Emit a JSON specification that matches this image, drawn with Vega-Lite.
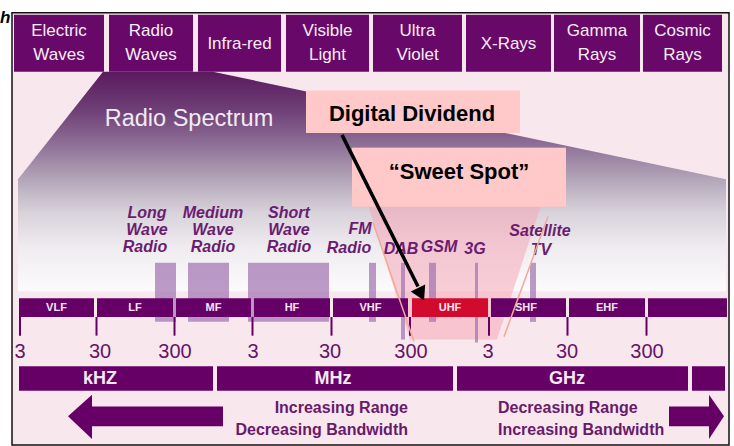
{
  "$schema": "https://vega.github.io/schema/vega-lite/v6.json",
  "width": 734,
  "height": 446,
  "autosize": {"type": "fit", "contains": "padding"},
  "padding": 0,
  "background": "white",
  "config": {"view": {"stroke": null}},
  "datasets": {
    "frame": [{"x": 12, "x2": 729, "y": 13, "y2": 452}],
    "fan": [
      {"x": 18, "y": 182, "y2": 296},
      {"x": 103, "y": 73, "y2": 296},
      {"x": 213, "y": 73, "y2": 296},
      {"x": 726, "y": 182, "y2": 296}
    ],
    "funnel": [
      {"x": 350, "y": 150, "y2": 150},
      {"x": 410, "y": 150, "y2": 345},
      {"x": 497, "y": 150, "y2": 345},
      {"x": 560, "y": 150, "y2": 150}
    ],
    "bars": [
      {"x": 155, "x2": 176, "y": 267, "y2": 327},
      {"x": 188, "x2": 229, "y": 267, "y2": 327},
      {"x": 248, "x2": 329, "y": 267, "y2": 327},
      {"x": 369, "x2": 376, "y": 267, "y2": 327},
      {"x": 401, "x2": 405, "y": 267, "y2": 345},
      {"x": 429, "x2": 436, "y": 267, "y2": 327},
      {"x": 475, "x2": 478, "y": 267, "y2": 348},
      {"x": 530, "x2": 536, "y": 267, "y2": 327}
    ],
    "band": [
      {"t": "VLF", "x": 19, "x2": 94, "cx": 56.5, "y": 303, "y2": 322, "k": "p"},
      {"t": "LF", "x": 97, "x2": 173, "cx": 135, "y": 303, "y2": 322, "k": "p"},
      {"t": "MF", "x": 176, "x2": 251, "cx": 213.5, "y": 303, "y2": 322, "k": "p"},
      {"t": "HF", "x": 254, "x2": 330, "cx": 292, "y": 303, "y2": 322, "k": "p"},
      {"t": "VHF", "x": 333, "x2": 408, "cx": 370.5, "y": 303, "y2": 322, "k": "p"},
      {"t": "UHF", "x": 412, "x2": 488, "cx": 450, "y": 303, "y2": 322, "k": "r"},
      {"t": "SHF", "x": 491, "x2": 566, "cx": 526, "y": 303, "y2": 322, "k": "p"},
      {"t": "EHF", "x": 569, "x2": 645, "cx": 607, "y": 303, "y2": 322, "k": "p"},
      {"t": "", "x": 648, "x2": 727, "cx": 687.5, "y": 303, "y2": 322, "k": "p"}
    ],
    "ticks": [
      {"x": 20, "lx": 20, "l": "3", "y": 322, "y2": 341, "ly": 358},
      {"x": 96.5, "lx": 100, "l": "30", "y": 322, "y2": 341, "ly": 358},
      {"x": 174.5, "lx": 175, "l": "300", "y": 322, "y2": 341, "ly": 358},
      {"x": 252.5, "lx": 253, "l": "3", "y": 322, "y2": 341, "ly": 358},
      {"x": 331.5, "lx": 330, "l": "30", "y": 322, "y2": 341, "ly": 358},
      {"x": 410, "lx": 411, "l": "300", "y": 322, "y2": 341, "ly": 358},
      {"x": 489, "lx": 488, "l": "3", "y": 322, "y2": 341, "ly": 358},
      {"x": 567.5, "lx": 567, "l": "30", "y": 322, "y2": 341, "ly": 358},
      {"x": 646.5, "lx": 647, "l": "300", "y": 322, "y2": 341, "ly": 358}
    ],
    "units": [
      {"t": "kHZ", "x": 19, "x2": 213, "cx": 100, "y": 372, "y2": 397, "ly": 385},
      {"t": "MHz", "x": 217, "x2": 453, "cx": 333, "y": 372, "y2": 397, "ly": 385},
      {"t": "GHz", "x": 457, "x2": 688, "cx": 567, "y": 372, "y2": 397, "ly": 385},
      {"t": "", "x": 692, "x2": 725, "cx": 708, "y": 372, "y2": 397, "ly": 385}
    ],
    "shafts": [
      {"x": 90, "x2": 223, "y": 413, "y2": 433},
      {"x": 669, "x2": 711, "y": 413, "y2": 433}
    ],
    "heads": [
      {"g": "L", "x": 68, "y": 423, "y2": 423},
      {"g": "L", "x": 92, "y": 401, "y2": 446},
      {"g": "R", "x": 709, "y": 401, "y2": 446},
      {"g": "R", "x": 724, "y": 423, "y2": 423}
    ],
    "leftText": [
      {"t": "Increasing Range", "x": 408, "y": 414},
      {"t": "Decreasing Bandwidth", "x": 408, "y": 437}
    ],
    "rightText": [
      {"t": "Decreasing Range", "x": 498, "y": 414},
      {"t": "Increasing Bandwidth", "x": 498, "y": 437}
    ],
    "services": [
      {"t": "Long", "x": 147, "y": 216},
      {"t": "Wave", "x": 147, "y": 234},
      {"t": "Radio", "x": 145, "y": 251},
      {"t": "Medium", "x": 213, "y": 216},
      {"t": "Wave", "x": 213, "y": 234},
      {"t": "Radio", "x": 213, "y": 251},
      {"t": "Short", "x": 289, "y": 216},
      {"t": "Wave", "x": 289, "y": 234},
      {"t": "Radio", "x": 289, "y": 251},
      {"t": "FM", "x": 360, "y": 233},
      {"t": "Radio", "x": 349, "y": 252},
      {"t": "DAB", "x": 401, "y": 253},
      {"t": "GSM", "x": 439, "y": 251},
      {"t": "3G", "x": 475, "y": 253},
      {"t": "Satellite", "x": 540, "y": 235},
      {"t": "TV", "x": 541, "y": 254}
    ],
    "pinkLines": [
      {"x": 373, "y": 226, "x2": 414, "y2": 347},
      {"x": 548, "y": 220, "x2": 504, "y2": 342}
    ],
    "callouts": [
      {"t": "Digital Dividend", "x": 306, "x2": 520, "y": 92, "y2": 135, "cx": 412, "cy": 116},
      {"t": "\u201cSweet Spot\u201d", "x": 352, "x2": 566, "y": 150, "y2": 210, "cx": 459, "cy": 175}
    ],
    "arrowLine": [{"x": 342, "y": 137, "x2": 418, "y2": 291}],
    "arrowHead": [{"x": 421, "y": 299}],
    "tops": [
      {"x": 14, "x2": 104, "y": 15, "y2": 73},
      {"x": 109, "x2": 193, "y": 15, "y2": 73},
      {"x": 198, "x2": 281, "y": 15, "y2": 73},
      {"x": 286, "x2": 369, "y": 15, "y2": 73},
      {"x": 373, "x2": 462, "y": 15, "y2": 73},
      {"x": 466, "x2": 551, "y": 15, "y2": 73},
      {"x": 554, "x2": 640, "y": 15, "y2": 73},
      {"x": 643, "x2": 722, "y": 15, "y2": 73}
    ],
    "topText": [
      {"t": "Electric", "x": 59, "y": 31},
      {"t": "Waves", "x": 59, "y": 56},
      {"t": "Radio", "x": 151, "y": 31},
      {"t": "Waves", "x": 151, "y": 56},
      {"t": "Infra-red", "x": 239.5, "y": 45},
      {"t": "Visible", "x": 327.5, "y": 31},
      {"t": "Light", "x": 327.5, "y": 56},
      {"t": "Ultra", "x": 417.5, "y": 31},
      {"t": "Violet", "x": 417.5, "y": 56},
      {"t": "X-Rays", "x": 508.5, "y": 45},
      {"t": "Gamma", "x": 597, "y": 31},
      {"t": "Rays", "x": 597, "y": 56},
      {"t": "Cosmic", "x": 682.5, "y": 31},
      {"t": "Rays", "x": 682.5, "y": 56}
    ],
    "title": [{"t": "Radio Spectrum", "x": 189, "y": 121}],
    "corner": [{"t": "h", "x": 0, "y": 18}]
  },
  "layer": [
    {
      "data": {"name": "frame"},
      "mark": {"type": "rect", "fill": "#f9e7ee", "stroke": "#111111", "strokeWidth": 1.5},
      "encoding": {
        "x": {"field": "x", "type": "quantitative", "scale": {"domain": [0, 734], "nice": false, "zero": false}, "axis": null},
        "x2": {"field": "x2"},
        "y": {"field": "y", "type": "quantitative", "scale": {"domain": [0, 446], "nice": false, "zero": false, "reverse": true}, "axis": null},
        "y2": {"field": "y2"}
      }
    },
    {
      "data": {"name": "fan"},
      "mark": {
        "type": "area",
        "interpolate": "linear",
        "color": {
          "gradient": "linear", "x1": 0, "y1": 0, "x2": 0, "y2": 1,
          "stops": [
            {"offset": 0, "color": "#5a1a5e"},
            {"offset": 0.17, "color": "#6e3e76"},
            {"offset": 0.32, "color": "#8c6c94"},
            {"offset": 0.49, "color": "#b2a6b8"},
            {"offset": 0.64, "color": "#d8d2da"},
            {"offset": 0.8, "color": "#efecf0"},
            {"offset": 1, "color": "#fcfbfc"}
          ]
        }
      },
      "encoding": {
        "x": {"field": "x", "type": "quantitative", "scale": {"domain": [0, 734], "nice": false, "zero": false}, "axis": null},
        "y": {"field": "y", "type": "quantitative", "scale": {"domain": [0, 446], "nice": false, "zero": false, "reverse": true}, "axis": null},
        "y2": {"field": "y2"}
      }
    },
    {
      "data": {"name": "funnel"},
      "mark": {"type": "area", "interpolate": "linear", "color": "#f5a8b8", "opacity": 0.55},
      "encoding": {
        "x": {"field": "x", "type": "quantitative", "scale": {"domain": [0, 734], "nice": false, "zero": false}, "axis": null},
        "y": {"field": "y", "type": "quantitative", "scale": {"domain": [0, 446], "nice": false, "zero": false, "reverse": true}, "axis": null},
        "y2": {"field": "y2"}
      }
    },
    {
      "data": {"name": "bars"},
      "mark": {"type": "rect", "color": "#a070b0", "opacity": 0.7},
      "encoding": {
        "x": {"field": "x", "type": "quantitative", "scale": {"domain": [0, 734], "nice": false, "zero": false}, "axis": null},
        "x2": {"field": "x2"},
        "y": {"field": "y", "type": "quantitative", "scale": {"domain": [0, 446], "nice": false, "zero": false, "reverse": true}, "axis": null},
        "y2": {"field": "y2"}
      }
    },
    {
      "data": {"name": "band"},
      "mark": {"type": "rect"},
      "encoding": {
        "x": {"field": "x", "type": "quantitative", "scale": {"domain": [0, 734], "nice": false, "zero": false}, "axis": null},
        "x2": {"field": "x2"},
        "y": {"field": "y", "type": "quantitative", "scale": {"domain": [0, 446], "nice": false, "zero": false, "reverse": true}, "axis": null},
        "y2": {"field": "y2"},
        "color": {"field": "k", "type": "nominal", "scale": {"domain": ["p", "r"], "range": ["#660066", "#d20a2e"]}, "legend": null}
      }
    },
    {
      "data": {"name": "band"},
      "mark": {"type": "text", "font": "Liberation Sans", "fontWeight": "bold", "fontSize": 11, "color": "#f4e8f4", "align": "center", "baseline": "middle"},
      "encoding": {
        "x": {"field": "cx", "type": "quantitative", "scale": {"domain": [0, 734], "nice": false, "zero": false}, "axis": null},
        "y": {"field": "y", "type": "quantitative", "scale": {"domain": [0, 446], "nice": false, "zero": false, "reverse": true}, "axis": null},
        "yOffset": {"value": 9.5},
        "text": {"field": "t"}
      }
    },
    {
      "data": {"name": "ticks"},
      "mark": {"type": "rule", "color": "#660066", "strokeWidth": 2},
      "encoding": {
        "x": {"field": "x", "type": "quantitative", "scale": {"domain": [0, 734], "nice": false, "zero": false}, "axis": null},
        "y": {"field": "y", "type": "quantitative", "scale": {"domain": [0, 446], "nice": false, "zero": false, "reverse": true}, "axis": null},
        "y2": {"field": "y2"}
      }
    },
    {
      "data": {"name": "ticks"},
      "mark": {"type": "text", "font": "Liberation Sans", "fontSize": 20, "color": "#661466", "align": "center", "baseline": "middle"},
      "encoding": {
        "x": {"field": "lx", "type": "quantitative", "scale": {"domain": [0, 734], "nice": false, "zero": false}, "axis": null},
        "y": {"field": "ly", "type": "quantitative", "scale": {"domain": [0, 446], "nice": false, "zero": false, "reverse": true}, "axis": null},
        "text": {"field": "l"}
      }
    },
    {
      "data": {"name": "units"},
      "mark": {"type": "rect", "color": "#660066"},
      "encoding": {
        "x": {"field": "x", "type": "quantitative", "scale": {"domain": [0, 734], "nice": false, "zero": false}, "axis": null},
        "x2": {"field": "x2"},
        "y": {"field": "y", "type": "quantitative", "scale": {"domain": [0, 446], "nice": false, "zero": false, "reverse": true}, "axis": null},
        "y2": {"field": "y2"}
      }
    },
    {
      "data": {"name": "units"},
      "mark": {"type": "text", "font": "Liberation Sans", "fontWeight": "bold", "fontSize": 18, "color": "#f4eaf4", "align": "center", "baseline": "middle"},
      "encoding": {
        "x": {"field": "cx", "type": "quantitative", "scale": {"domain": [0, 734], "nice": false, "zero": false}, "axis": null},
        "y": {"field": "ly", "type": "quantitative", "scale": {"domain": [0, 446], "nice": false, "zero": false, "reverse": true}, "axis": null},
        "text": {"field": "t"}
      }
    },
    {
      "data": {"name": "shafts"},
      "mark": {"type": "rect", "color": "#660066"},
      "encoding": {
        "x": {"field": "x", "type": "quantitative", "scale": {"domain": [0, 734], "nice": false, "zero": false}, "axis": null},
        "x2": {"field": "x2"},
        "y": {"field": "y", "type": "quantitative", "scale": {"domain": [0, 446], "nice": false, "zero": false, "reverse": true}, "axis": null},
        "y2": {"field": "y2"}
      }
    },
    {
      "data": {"name": "heads"},
      "mark": {"type": "area", "interpolate": "linear", "color": "#660066"},
      "encoding": {
        "x": {"field": "x", "type": "quantitative", "scale": {"domain": [0, 734], "nice": false, "zero": false}, "axis": null},
        "y": {"field": "y", "type": "quantitative", "scale": {"domain": [0, 446], "nice": false, "zero": false, "reverse": true}, "axis": null},
        "y2": {"field": "y2"},
        "detail": {"field": "g", "type": "nominal"}
      }
    },
    {
      "data": {"name": "leftText"},
      "mark": {"type": "text", "font": "Liberation Sans", "fontWeight": "bold", "fontSize": 16, "color": "#6a1a6a", "align": "right", "baseline": "middle"},
      "encoding": {
        "x": {"field": "x", "type": "quantitative", "scale": {"domain": [0, 734], "nice": false, "zero": false}, "axis": null},
        "y": {"field": "y", "type": "quantitative", "scale": {"domain": [0, 446], "nice": false, "zero": false, "reverse": true}, "axis": null},
        "text": {"field": "t"}
      }
    },
    {
      "data": {"name": "rightText"},
      "mark": {"type": "text", "font": "Liberation Sans", "fontWeight": "bold", "fontSize": 16, "color": "#6a1a6a", "align": "left", "baseline": "middle"},
      "encoding": {
        "x": {"field": "x", "type": "quantitative", "scale": {"domain": [0, 734], "nice": false, "zero": false}, "axis": null},
        "y": {"field": "y", "type": "quantitative", "scale": {"domain": [0, 446], "nice": false, "zero": false, "reverse": true}, "axis": null},
        "text": {"field": "t"}
      }
    },
    {
      "data": {"name": "services"},
      "mark": {"type": "text", "font": "Liberation Sans", "fontWeight": "bold", "fontStyle": "italic", "fontSize": 16, "color": "#6c1c70", "align": "center", "baseline": "middle"},
      "encoding": {
        "x": {"field": "x", "type": "quantitative", "scale": {"domain": [0, 734], "nice": false, "zero": false}, "axis": null},
        "y": {"field": "y", "type": "quantitative", "scale": {"domain": [0, 446], "nice": false, "zero": false, "reverse": true}, "axis": null},
        "text": {"field": "t"}
      }
    },
    {
      "data": {"name": "pinkLines"},
      "mark": {"type": "rule", "color": "#f4a898", "strokeWidth": 1.5},
      "encoding": {
        "x": {"field": "x", "type": "quantitative", "scale": {"domain": [0, 734], "nice": false, "zero": false}, "axis": null},
        "x2": {"field": "x2"},
        "y": {"field": "y", "type": "quantitative", "scale": {"domain": [0, 446], "nice": false, "zero": false, "reverse": true}, "axis": null},
        "y2": {"field": "y2"}
      }
    },
    {
      "data": {"name": "callouts"},
      "mark": {"type": "rect", "color": "#ffc9c9"},
      "encoding": {
        "x": {"field": "x", "type": "quantitative", "scale": {"domain": [0, 734], "nice": false, "zero": false}, "axis": null},
        "x2": {"field": "x2"},
        "y": {"field": "y", "type": "quantitative", "scale": {"domain": [0, 446], "nice": false, "zero": false, "reverse": true}, "axis": null},
        "y2": {"field": "y2"}
      }
    },
    {
      "data": {"name": "callouts"},
      "mark": {"type": "text", "font": "Liberation Sans", "fontWeight": "bold", "fontSize": 22, "color": "#000000", "align": "center", "baseline": "middle"},
      "encoding": {
        "x": {"field": "cx", "type": "quantitative", "scale": {"domain": [0, 734], "nice": false, "zero": false}, "axis": null},
        "y": {"field": "cy", "type": "quantitative", "scale": {"domain": [0, 446], "nice": false, "zero": false, "reverse": true}, "axis": null},
        "text": {"field": "t"}
      }
    },
    {
      "data": {"name": "arrowLine"},
      "mark": {"type": "rule", "color": "#000000", "strokeWidth": 3.5},
      "encoding": {
        "x": {"field": "x", "type": "quantitative", "scale": {"domain": [0, 734], "nice": false, "zero": false}, "axis": null},
        "x2": {"field": "x2"},
        "y": {"field": "y", "type": "quantitative", "scale": {"domain": [0, 446], "nice": false, "zero": false, "reverse": true}, "axis": null},
        "y2": {"field": "y2"}
      }
    },
    {
      "data": {"name": "arrowHead"},
      "mark": {"type": "point", "shape": "triangle-up", "angle": 154, "size": 260, "filled": true, "color": "#000000", "opacity": 1},
      "encoding": {
        "x": {"field": "x", "type": "quantitative", "scale": {"domain": [0, 734], "nice": false, "zero": false}, "axis": null},
        "y": {"field": "y", "type": "quantitative", "scale": {"domain": [0, 446], "nice": false, "zero": false, "reverse": true}, "axis": null}
      }
    },
    {
      "data": {"name": "tops"},
      "mark": {"type": "rect", "color": "#680868"},
      "encoding": {
        "x": {"field": "x", "type": "quantitative", "scale": {"domain": [0, 734], "nice": false, "zero": false}, "axis": null},
        "x2": {"field": "x2"},
        "y": {"field": "y", "type": "quantitative", "scale": {"domain": [0, 446], "nice": false, "zero": false, "reverse": true}, "axis": null},
        "y2": {"field": "y2"}
      }
    },
    {
      "data": {"name": "topText"},
      "mark": {"type": "text", "font": "Liberation Sans", "fontSize": 17, "color": "#f6eef6", "align": "center", "baseline": "middle"},
      "encoding": {
        "x": {"field": "x", "type": "quantitative", "scale": {"domain": [0, 734], "nice": false, "zero": false}, "axis": null},
        "y": {"field": "y", "type": "quantitative", "scale": {"domain": [0, 446], "nice": false, "zero": false, "reverse": true}, "axis": null},
        "text": {"field": "t"}
      }
    },
    {
      "data": {"name": "title"},
      "mark": {"type": "text", "font": "Liberation Sans", "fontSize": 23.5, "color": "#f2eaf4", "align": "center", "baseline": "middle"},
      "encoding": {
        "x": {"field": "x", "type": "quantitative", "scale": {"domain": [0, 734], "nice": false, "zero": false}, "axis": null},
        "y": {"field": "y", "type": "quantitative", "scale": {"domain": [0, 446], "nice": false, "zero": false, "reverse": true}, "axis": null},
        "text": {"field": "t"}
      }
    },
    {
      "data": {"name": "corner"},
      "mark": {"type": "text", "font": "Liberation Sans", "fontWeight": "bold", "fontStyle": "italic", "fontSize": 17, "color": "#000000", "align": "left", "baseline": "middle"},
      "encoding": {
        "x": {"field": "x", "type": "quantitative", "scale": {"domain": [0, 734], "nice": false, "zero": false}, "axis": null},
        "y": {"field": "y", "type": "quantitative", "scale": {"domain": [0, 446], "nice": false, "zero": false, "reverse": true}, "axis": null},
        "text": {"field": "t"}
      }
    }
  ]
}
